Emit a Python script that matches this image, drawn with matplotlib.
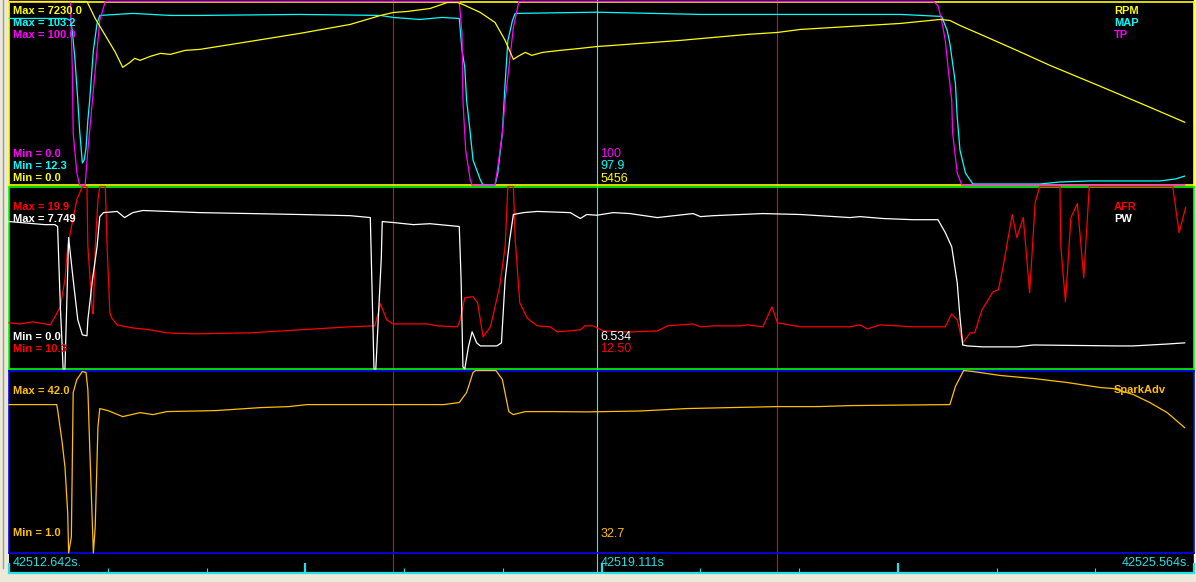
import matplotlib
matplotlib.use("Agg")
import matplotlib.pyplot as plt
import numpy as np
from matplotlib.lines import Line2D
from matplotlib.patches import Rectangle

# ---------------- data ----------------
T_START = 42512.642
T_END = 42525.564
T_CURSOR_LABEL = "42519.111s"
SPAN = T_END - T_START
cursor_red = [4.19, 8.38]
cursor_main = 6.41

# RPM
rpm_t = [0.00, 0.85, 0.94, 1.05, 1.16, 1.24, 1.32, 1.37, 1.43, 1.54, 1.65, 1.76, 1.92, 2.08, 2.63,
         3.17, 3.72, 4.05, 4.19, 4.34, 4.59, 4.78, 4.89, 4.95, 5.14, 5.30, 5.41, 5.50, 5.55, 5.63,
         5.70, 5.82, 6.01, 6.23, 6.41, 6.59, 7.32, 8.05, 8.38, 8.63, 9.17, 9.72, 10.15, 10.26, 10.37,
         10.62, 10.99, 11.35, 11.90, 12.44, 12.82]
rpm = [7230, 7230, 6561, 5894, 5226, 4636, 4833, 4990, 4912, 5068, 5186, 5147, 5304, 5343, 5658,
       5972, 6326, 6679, 6797, 6836, 6954, 7190, 7190, 7112, 6797, 6404, 5697, 4951, 5068, 5226,
       5108, 5226, 5304, 5383, 5456, 5501, 5697, 5933, 6011, 6129, 6247, 6365, 6522, 6483, 6286,
       5894, 5304, 4715, 3890, 3065, 2475]
rpm_range = (0.0, 7230.0)

# MAP
map_t = [0.00, 0.62, 0.67, 0.69, 0.72, 0.75, 0.77, 0.80, 0.82, 0.84, 0.86, 0.88, 0.92, 0.96, 0.99,
         1.35, 1.76, 2.08, 3.17, 4.05, 4.19, 4.48, 4.72, 4.91, 4.94, 4.97, 4.99, 5.03, 5.06, 5.14,
         5.17, 5.30, 5.33, 5.38, 5.41, 5.44, 5.49, 5.52, 6.41, 7.54, 8.63, 9.72, 10.17, 10.23, 10.26,
         10.32, 10.34, 10.37, 10.43, 10.51, 11.24, 11.46, 11.79, 12.33, 12.55, 12.72, 12.82]
map_kpa = [94.8, 94.8, 93.8, 88.9, 74.1, 54.3, 39.5, 23.2, 24.7, 30.6, 44.4, 54.3, 79.0, 92.3, 96.3,
           97.3, 96.3, 96.3, 96.8, 96.3, 95.3, 94.3, 95.3, 94.8, 79.0, 70.6, 54.3, 38.0, 24.7, 14.8,
           12.3, 12.3, 18.2, 38.0, 62.7, 83.9, 93.8, 97.3, 97.9, 96.8, 96.8, 96.8, 95.8, 88.9, 82.4,
           62.7, 45.9, 29.6, 18.2, 12.8, 12.8, 13.8, 14.3, 14.3, 14.3, 15.3, 16.7]
map_range = (12.3, 103.2)

# TP
tp_t = [0.00, 0.67, 0.69, 0.70, 0.74, 0.77, 0.83, 0.86, 0.91, 0.96, 0.99, 1.05,
        4.91, 4.94, 4.95, 4.98, 5.03, 5.05, 5.30, 5.33, 5.38, 5.41, 5.46, 5.50, 5.56,
        10.08, 10.13, 10.17, 10.21, 10.24, 10.28, 10.29, 10.34, 10.39, 12.82]
tp = [100, 100, 64.1, 28.3, 6.5, 0, 0, 19.0, 46.2, 73.4, 89.7, 100,
      100, 82.6, 46.2, 19.0, 2.7, 0, 0, 9.8, 28.3, 46.2, 67.9, 85.9, 100,
      100, 97.8, 89.7, 78.8, 64.1, 46.2, 28.3, 6.5, 0, 0]
tp_range = (0.0, 100.0)

# PW
pw_t = [0.00, 0.39, 0.50, 0.53, 0.56, 0.58, 0.59, 0.61, 0.65, 0.70, 0.75, 0.80, 0.85, 0.86, 0.91,
        0.96, 0.99, 1.03, 1.18, 1.26, 1.35, 1.46, 2.08, 2.63, 3.17, 3.72, 3.94, 3.98, 4.00, 4.06,
        4.07, 4.19, 4.41, 4.59, 4.91, 4.93, 4.95, 4.97, 5.01, 5.05, 5.10, 5.14, 5.32, 5.37, 5.41,
        5.46, 5.50, 5.61, 5.76, 6.12, 6.23, 6.30, 6.41, 6.59, 6.77, 7.07, 7.46, 7.54, 7.68, 8.22,
        8.63, 9.17, 9.28, 9.53, 9.85, 10.13, 10.21, 10.28, 10.34, 10.37, 10.40, 10.45, 10.62, 10.99, 11.17,
        12.08, 12.26, 12.63, 12.82]
pw = [6.26, 6.13, 6.13, 6.05, 2.64, 0.94, 0, 0, 5.58, 3.79, 2.09, 1.45, 1.41, 2.09, 3.79,
      5.19, 6.47, 6.64, 6.69, 6.43, 6.64, 6.73, 6.64, 6.60, 6.56, 6.51, 6.43, 0, 0, 4.73,
      6.26, 6.22, 6.13, 6.17, 6.05, 3.79, 0.09, 0, 0.94, 1.58, 1.11, 0.98, 0.98, 1.11, 3.79,
      5.49, 6.56, 6.64, 6.69, 6.64, 6.39, 6.56, 6.53, 6.64, 6.60, 6.43, 6.60, 6.47, 6.51, 6.60,
      6.56, 6.43, 6.47, 6.39, 6.34, 6.34, 5.79, 5.19, 3.66, 2.21, 1.02, 0.98, 0.94, 0.94, 1.02,
      0.98, 0.98, 1.06, 1.11]
pw_range = (0.0, 7.749)

# AFR
afr_t = [0.00, 0.12, 0.26, 0.45, 0.50, 0.56, 0.61, 0.64, 0.69, 0.74, 0.80, 0.85, 0.86, 0.91, 0.92,
         0.94, 0.97, 0.99, 1.05, 1.07, 1.10, 1.12, 1.18, 1.35, 1.54, 1.72, 2.01, 2.63, 3.17, 3.72,
         3.99, 4.05, 4.12, 4.19, 4.56, 4.67, 4.89, 4.92, 4.97, 5.06, 5.11, 5.17, 5.25, 5.35, 5.41,
         5.44, 5.50, 5.52, 5.57, 5.65, 5.76, 5.90, 5.98, 6.23, 6.28, 6.37, 6.48, 6.77, 7.07, 7.18,
         7.46, 7.54, 7.68, 7.97, 8.05, 8.22, 8.32, 8.38, 8.63, 9.17, 9.28, 9.36, 9.50, 9.86, 10.21,
         10.28, 10.34, 10.40, 10.48, 10.53, 10.61, 10.73, 10.79, 10.84, 10.94, 10.99, 11.06, 11.13, 11.19, 11.24,
         11.46, 11.47, 11.52, 11.58, 11.65, 11.72, 11.78, 12.69, 12.76, 12.83]
afr = [12.73, 12.67, 12.78, 12.62, 13.04, 13.57, 15.00, 16.74, 18.00, 19.21, 19.9, 19.9, 16.74, 13.25, 13.20,
       16.74, 19.21, 19.9, 19.9, 16.74, 13.25, 12.99, 12.62, 12.46, 12.36, 12.20, 12.15, 12.20, 12.36, 12.52,
       12.57, 13.73, 12.88, 12.67, 12.67, 12.57, 12.52, 12.88, 14.05, 14.10, 13.78, 11.99, 12.52, 14.63, 16.74,
       19.9, 19.9, 17.10, 13.78, 12.99, 12.57, 12.52, 12.25, 12.36, 12.57, 12.57, 12.30, 12.25, 12.30, 12.57,
       12.67, 12.52, 12.57, 12.57, 12.62, 12.52, 13.57, 12.73, 12.52, 12.52, 12.62, 12.41, 12.62, 12.52, 12.52,
       13.20, 12.88, 11.67, 12.20, 12.20, 13.41, 14.36, 14.47, 15.68, 18.42, 17.21, 18.27, 14.31, 19.06, 19.9,
       19.9, 16.74, 13.83, 18.27, 19.00, 15.10, 19.9, 19.9, 17.47, 18.79]
afr_range = (10.3, 19.9)

# Spark advance
sp_t = [0.00, 0.52, 0.53, 0.58, 0.61, 0.64, 0.65, 0.68, 0.70, 0.74, 0.80, 0.84, 0.86, 0.88, 0.92,
        0.94, 0.97, 0.99, 1.08, 1.24, 1.43, 1.57, 1.72, 2.25, 2.75, 3.05, 3.25, 4.74, 4.91, 4.99,
        5.06, 5.09, 5.31, 5.38, 5.45, 5.50, 5.63, 5.93, 6.31, 6.88, 7.38, 7.87, 8.38, 8.82, 9.19,
        10.26, 10.32, 10.41, 10.51, 10.81, 11.17, 11.54, 11.90, 12.04, 12.26, 12.44, 12.63, 12.82]
spark = [34.34, 34.34, 33.22, 25.78, 20.38, 10.01, 1.0, 4.60, 37.05, 39.98, 41.78, 41.55, 37.72, 24.88, 1.0,
         6.86, 29.39, 33.44, 32.99, 31.64, 32.54, 32.09, 32.77, 32.99, 33.67, 33.89, 34.34, 34.34, 34.80, 37.05,
         41.55, 42.0, 42.0, 39.98, 32.77, 32.09, 32.77, 32.77, 32.7, 32.9, 33.44, 33.67, 33.89, 33.89, 34.12,
         34.34, 38.40, 42.0, 41.78, 40.88, 40.20, 39.30, 38.17, 37.95, 36.60, 34.80, 32.54, 29.16]
spark_range = (1.0, 42.0)

# cursor readouts
cur_tp, cur_map, cur_rpm = "100", "97.9", "5456"
cur_pw, cur_afr = "6.534", "12.50"
cur_spark = "32.7"

# ---------------- style ----------------
YEL = "#FFFF00"
CYN = "#00FFFF"
MAG = "#FF00FF"
RED = "#FF0000"
WHT = "#FFFFFF"
ORG = "#FFC000"
GRN = "#00FF00"
BLU = "#0000FF"
TCY = "#22E0E8"
FONT = ["Liberation Sans", "DejaVu Sans"]
LW = 0.9

W, H = 1196, 582
fig = plt.figure(figsize=(W / 100, H / 100), dpi=100)
fig.patch.set_facecolor("#ECE9D8")


def frac_rect(x0, y0, x1, y1):
    return [x0 / W, 1 - y1 / H, (x1 - x0) / W, (y1 - y0) / H]


X0, X1 = 9, 1194

fig.add_artist(Line2D([2.5 / W, 2.5 / W], [1 - 568 / H, 1], color="#9A9A9A", lw=1.0))
fig.add_artist(Rectangle((1194 / W, 1 - 573 / H), 2 / W, 573 / H, color="white",
                         transform=fig.transFigure))

bg = fig.add_axes(frac_rect(X0, 0, X1, 573), zorder=0)
bg.set_facecolor("black")
bg.set_xlim(0, SPAN)
bg.set_ylim(0, 1)
bg.set_xticks([])
bg.set_yticks([])
for s in bg.spines.values():
    s.set_visible(False)
for t in cursor_red:
    bg.axvline(t, color=RED, lw=0.8)
bg.axvline(cursor_main, color=CYN, lw=0.8)

P1 = (1.5, 185)
P2 = (186.5, 369)
P3 = (370.5, 553)


def make_panel(y0, y1, color, z):
    ax = fig.add_axes(frac_rect(X0, y0, X1, y1), zorder=z)
    ax.set_facecolor("none")
    ax.set_xlim(0, SPAN)
    ax.set_xticks([])
    ax.set_yticks([])
    for s in ax.spines.values():
        s.set_color(color)
        s.set_linewidth(1.2)
    return ax


make_panel(*P1, YEL, 1)
make_panel(*P2, GRN, 1.1)
make_panel(*P3, BLU, 1.2)


def add_trace(panel, t, v, rng, color, z):
    ax = fig.add_axes(frac_rect(X0, panel[0], X1, panel[1]), zorder=z)
    ax.set_xlim(0, SPAN)
    ax.set_ylim(*rng)
    ax.plot(t, v, color=color, lw=LW, clip_on=False)
    ax.set_axis_off()


add_trace(P1, map_t, map_kpa, map_range, CYN, 3)
add_trace(P1, tp_t, tp, tp_range, MAG, 4)
add_trace(P1, rpm_t, rpm, rpm_range, YEL, 5)
add_trace(P2, afr_t, afr, afr_range, RED, 3)
add_trace(P2, pw_t, pw, pw_range, WHT, 4)
add_trace(P3, sp_t, spark, spark_range, ORG, 3)

# time strip
ts = fig.add_axes(frac_rect(X0, 553, X1, 572.5), zorder=1)
ts.set_facecolor("none")
ts.set_xlim(0, SPAN)
ts.set_yticks([])
for k in ("top", "left", "right"):
    ts.spines[k].set_visible(False)
ts.spines["bottom"].set_color(TCY)
ts.spines["bottom"].set_linewidth(1.6)
ts.set_xticks(np.linspace(0, SPAN, 5))
ts.set_xticks(np.linspace(0, SPAN, 13), minor=True)
ts.tick_params(axis="x", which="major", direction="in", length=7, width=1.6, color=TCY,
               labelbottom=False)
ts.tick_params(axis="x", which="minor", direction="in", length=3.3, width=0.8, color=TCY)


def label(x, yb, s, color, bold=True, ha="left"):
    fig.text(x / W, 1 - yb / H, s, color=color, fontsize=8 if bold else 9,
             fontweight="bold" if bold else "normal", family=FONT,
             ha=ha, va="baseline", zorder=20)


LX = 13
RX = 1114
VX = 600.5

# panel 1
label(LX, 14, f"Max = {rpm_range[1]:.1f}", YEL)
label(LX, 26, f"Max = {map_range[1]:.1f}", CYN)
label(LX, 37.5, f"Max = {tp_range[1]:.1f}", MAG)
label(LX, 157, f"Min = {tp_range[0]:.1f}", MAG)
label(LX, 169, f"Min = {map_range[0]:.1f}", CYN)
label(LX, 181, f"Min = {rpm_range[0]:.1f}", YEL)
label(RX, 14, "RPM", YEL)
label(RX, 26, "MAP", CYN)
label(RX, 37.5, "TP", MAG)
label(VX, 157, cur_tp, MAG, bold=False)
label(VX, 169, cur_map, CYN, bold=False)
label(VX, 181.5, cur_rpm, YEL, bold=False)

# panel 2
label(LX, 209.5, f"Max = {afr_range[1]:.1f}", RED)
label(LX, 221.5, f"Max = {pw_range[1]:.3f}", WHT)
label(LX, 340, f"Min = {pw_range[0]:.1f}", WHT)
label(LX, 352, f"Min = {afr_range[0]:.1f}", RED)
label(RX, 210, "AFR", RED)
label(RX, 221.5, "PW", WHT)
label(VX, 340, cur_pw, WHT, bold=False)
label(VX, 352.5, cur_afr, RED, bold=False)

# panel 3
label(LX, 394.5, f"Max = {spark_range[1]:.1f}", ORG)
label(LX, 536.5, f"Min = {spark_range[0]:.1f}", ORG)
label(RX, 393, "SparkAdv", ORG)
label(VX, 537, cur_spark, ORG, bold=False)

# time labels
label(12.3, 566, f"{T_START:.3f}s.", TCY, bold=False)
label(VX, 566, T_CURSOR_LABEL, TCY, bold=False)
label(1190, 566, f"{T_END:.3f}s.", TCY, bold=False, ha="right")

fig.savefig("out.png", dpi=100, facecolor=fig.get_facecolor())
